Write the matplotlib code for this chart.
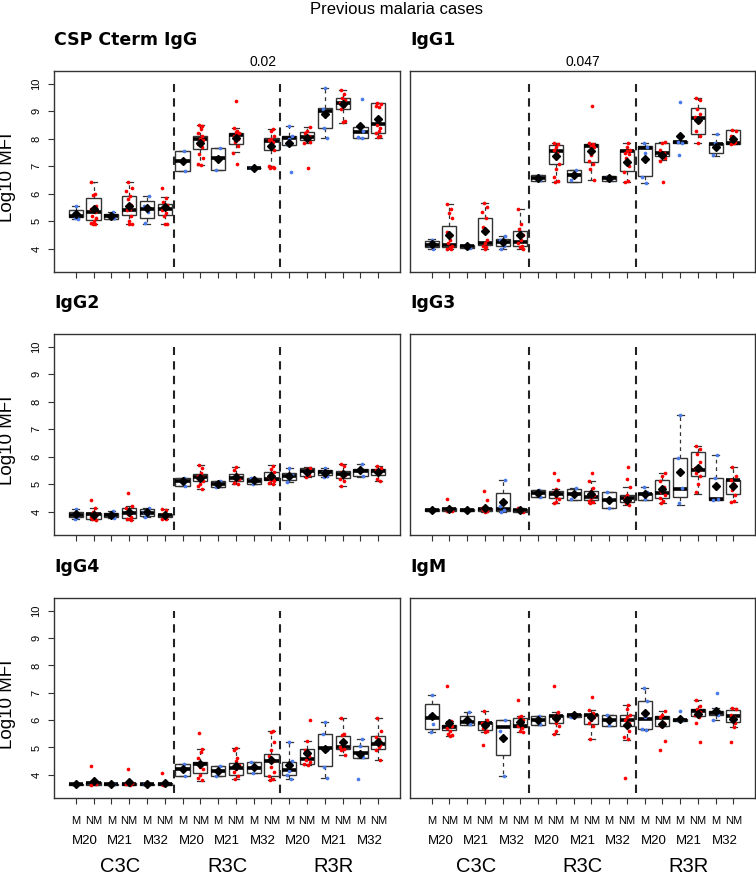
import matplotlib
matplotlib.use("Agg")
import matplotlib.pyplot as plt

plt.rcParams['font.family'] = ['Liberation Sans', 'DejaVu Sans']

# ---------------- data ----------------
groups = ["C3C", "R3C", "R3R"]
strains = ["M20", "M21", "M32"]
status = ["M", "NM"]
panel_titles = ["CSP Cterm IgG", "IgG1", "IgG2", "IgG3", "IgG4", "IgM"]
pvalues = {"CSP Cterm IgG": ("0.02", 11.5), "IgG1": ("0.047", 9.5)}

csp_q1 = [5.14, 5.05, 5.09, 5.23, 5.12, 5.24, 6.81, 7.62, 6.86, 7.80, 6.92, 7.58, 7.78, 7.95, 8.38, 9.07, 8.04, 8.22]
csp_med = [5.20, 5.33, 5.18, 5.41, 5.45, 5.45, 7.19, 8.00, 7.29, 8.14, 6.93, 7.92, 8.02, 8.07, 9.01, 9.31, 8.26, 8.53]
csp_q3 = [5.41, 5.85, 5.27, 5.91, 5.75, 5.63, 7.56, 8.10, 7.68, 8.22, 6.94, 8.02, 8.10, 8.25, 9.13, 9.47, 8.44, 9.29]
csp_lo = [5.08, 4.88, 5.08, 4.88, 4.90, 4.88, 6.81, 7.04, 6.86, 7.51, 6.92, 6.96, 7.78, 7.86, 8.04, 8.59, 8.03, 8.04]
csp_hi = [5.55, 6.44, 5.35, 6.41, 5.93, 5.87, 7.56, 8.50, 7.68, 8.38, 6.94, 8.35, 8.47, 8.43, 9.86, 9.76, 8.45, 9.31]
csp_mean = [5.28, 5.45, 5.20, 5.57, 5.48, 5.50, 7.20, 7.86, 7.27, 8.04, 6.93, 7.74, 7.84, 8.04, 8.89, 9.25, 8.47, 8.71]
csp_pts = [
    [5.55, 5.30, 5.20, 5.12, 5.08],
    [6.44, 6.00, 5.95, 5.55, 5.45, 5.35, 5.20, 5.10, 5.00, 4.95, 4.90, 4.88],
    [5.35, 5.20, 5.10],
    [6.41, 6.20, 6.10, 5.90, 5.80, 5.60, 5.45, 5.40, 5.20, 5.00, 4.90, 4.88],
    [5.93, 5.55, 5.35, 4.93],
    [6.22, 5.85, 5.70, 5.60, 5.50, 5.40, 5.30, 5.20, 4.90, 4.90],
    [7.57, 7.20, 6.81],
    [8.50, 8.45, 8.35, 8.20, 8.10, 8.00, 7.95, 7.90, 7.80, 7.70, 7.45, 7.30, 7.10, 7.05],
    [7.66, 7.28, 6.86],
    [9.38, 8.38, 8.30, 8.25, 8.20, 8.15, 8.10, 8.00, 7.90, 7.75, 7.50, 7.10],
    [6.95, 6.93, 6.92],
    [8.35, 8.30, 8.10, 8.00, 7.95, 7.90, 7.85, 7.60, 7.00, 6.98, 6.95, 6.95],
    [8.47, 8.10, 8.00, 7.80, 6.78],
    [8.43, 8.30, 8.20, 8.10, 8.05, 7.90, 7.85, 6.95],
    [9.86, 9.10, 8.90, 8.38, 8.04],
    [9.76, 9.65, 9.50, 9.40, 9.30, 9.20, 9.10, 8.65, 8.60],
    [9.45, 8.45, 8.30, 8.05, 8.03],
    [9.30, 9.25, 9.20, 9.15, 8.50, 8.40, 8.30, 8.20, 8.10, 8.05],
]

igg1_q1 = [4.06, 4.06, 4.03, 4.15, 4.08, 4.08, 6.45, 7.10, 6.44, 7.15, 6.47, 6.84, 6.64, 7.37, 7.86, 8.16, 7.49, 7.80]
igg1_med = [4.15, 4.14, 4.08, 4.20, 4.25, 4.23, 6.57, 7.56, 6.68, 7.73, 6.57, 7.54, 7.68, 7.50, 7.89, 8.77, 7.80, 7.86]
igg1_q3 = [4.28, 4.84, 4.12, 5.12, 4.36, 4.66, 6.68, 7.78, 6.86, 7.80, 6.66, 7.58, 7.74, 7.85, 7.91, 9.13, 7.85, 8.31]
igg1_lo = [3.99, 4.00, 4.03, 4.00, 3.99, 4.00, 6.45, 6.41, 6.44, 6.50, 6.47, 6.41, 6.38, 7.22, 7.86, 7.86, 7.36, 7.80]
igg1_hi = [4.35, 5.63, 4.12, 5.68, 4.47, 5.43, 6.68, 7.86, 6.86, 7.86, 6.66, 7.86, 7.86, 7.90, 7.91, 9.49, 8.19, 8.33]
igg1_mean = [4.18, 4.48, 4.08, 4.64, 4.24, 4.48, 6.57, 7.38, 6.68, 7.54, 6.57, 7.17, 7.26, 7.42, 8.09, 8.70, 7.72, 8.00]
igg1_pts = [
    [4.33, 4.15, 4.00],
    [5.63, 5.45, 5.30, 5.10, 4.60, 4.30, 4.20, 4.10, 4.05, 4.00, 4.00],
    [4.10, 4.05, 4.03],
    [5.68, 5.50, 5.35, 5.10, 4.80, 4.30, 4.20, 4.10, 4.05, 4.00],
    [4.45, 4.30, 4.10, 3.99],
    [5.45, 4.90, 4.70, 4.50, 4.30, 4.20, 4.10, 4.05, 4.00],
    [6.65, 6.55, 6.50],
    [7.86, 7.80, 7.70, 7.60, 7.50, 7.30, 7.10, 6.90, 6.60, 6.45, 6.42],
    [6.85, 6.70, 6.50],
    [9.18, 7.86, 7.80, 7.75, 7.70, 7.40, 7.20, 7.10, 6.90, 6.50],
    [6.62, 6.55, 6.50],
    [7.86, 7.70, 7.60, 7.55, 7.50, 7.45, 7.30, 7.00, 6.80, 6.45, 6.42],
    [7.84, 7.70, 7.50, 6.60, 6.40],
    [7.90, 7.85, 7.60, 7.50, 7.40, 7.30, 7.20, 6.41],
    [9.34, 7.90, 7.85, 7.42],
    [9.49, 9.40, 9.10, 8.90, 8.80, 8.60, 8.30, 8.10, 7.86],
    [8.19, 7.85, 7.70, 7.40],
    [8.33, 8.30, 8.10, 8.00, 7.95, 7.90, 7.85, 7.80],
]

igg2_q1 = [3.80, 3.74, 3.79, 3.77, 3.84, 3.79, 4.93, 5.13, 4.90, 5.13, 5.02, 5.17, 5.17, 5.31, 5.35, 5.21, 5.30, 5.35]
igg2_med = [3.88, 3.90, 3.89, 3.96, 3.96, 3.87, 5.11, 5.27, 5.02, 5.23, 5.13, 5.20, 5.29, 5.47, 5.43, 5.37, 5.47, 5.47]
igg2_q3 = [3.98, 3.96, 3.96, 4.13, 4.08, 3.93, 5.23, 5.37, 5.11, 5.37, 5.23, 5.43, 5.41, 5.58, 5.53, 5.48, 5.56, 5.57]
igg2_lo = [3.74, 3.70, 3.76, 3.70, 3.82, 3.72, 4.93, 4.81, 4.88, 5.02, 5.02, 5.02, 5.07, 5.27, 5.25, 4.95, 5.28, 5.10]
igg2_hi = [4.10, 4.14, 4.03, 4.20, 4.12, 4.10, 5.23, 5.71, 5.13, 5.63, 5.24, 5.70, 5.58, 5.62, 5.59, 5.74, 5.75, 5.68]
igg2_mean = [3.90, 3.88, 3.89, 3.98, 3.98, 3.88, 5.10, 5.23, 5.00, 5.25, 5.14, 5.29, 5.30, 5.45, 5.42, 5.38, 5.50, 5.45]
igg2_pts = [
    [4.08, 3.90, 3.80, 3.75],
    [4.44, 4.14, 4.00, 3.90, 3.80, 3.75, 3.72, 3.70],
    [4.03, 3.88, 3.76],
    [4.69, 4.20, 4.15, 4.00, 3.90, 3.80, 3.75, 3.72, 3.70],
    [4.12, 4.00, 3.90, 3.82],
    [4.10, 4.05, 3.90, 3.85, 3.80, 3.75, 3.72],
    [5.23, 5.10, 4.93],
    [5.71, 5.60, 5.40, 5.30, 5.25, 5.20, 5.10, 5.00, 4.95, 4.81],
    [5.13, 5.00, 4.88],
    [5.63, 5.50, 5.35, 5.30, 5.20, 5.15, 5.05, 5.02],
    [5.24, 5.15, 5.02],
    [5.68, 5.55, 5.45, 5.30, 5.25, 5.20, 5.15, 5.10, 5.05, 5.02],
    [5.58, 5.35, 5.20, 5.07],
    [5.60, 5.55, 5.45, 5.35, 5.27],
    [5.58, 5.45, 5.30, 5.25],
    [5.72, 5.65, 5.45, 5.35, 5.20, 5.10, 4.95],
    [5.75, 5.50, 5.30],
    [5.68, 5.60, 5.50, 5.40, 5.20, 5.10],
]

igg3_q1 = [4.02, 4.03, 4.04, 4.02, 4.03, 3.98, 4.54, 4.50, 4.44, 4.44, 4.14, 4.36, 4.42, 4.50, 4.54, 5.31, 4.42, 4.66]
igg3_med = [4.06, 4.08, 4.06, 4.08, 4.10, 4.06, 4.69, 4.66, 4.66, 4.54, 4.44, 4.50, 4.63, 4.69, 4.83, 5.50, 4.47, 5.14]
igg3_q3 = [4.10, 4.13, 4.08, 4.13, 4.69, 4.10, 4.78, 4.75, 4.84, 4.75, 4.72, 4.59, 4.69, 5.17, 5.95, 6.16, 5.23, 5.17]
igg3_lo = [4.02, 4.02, 4.04, 4.00, 4.00, 3.98, 4.54, 4.30, 4.44, 4.30, 4.14, 4.23, 4.42, 4.30, 4.26, 4.66, 4.42, 4.35]
igg3_hi = [4.10, 4.13, 4.08, 4.15, 5.17, 4.15, 4.80, 4.83, 4.85, 5.13, 4.72, 4.89, 4.90, 5.41, 7.52, 6.38, 6.07, 5.62]
igg3_mean = [4.06, 4.09, 4.06, 4.14, 4.36, 4.05, 4.68, 4.69, 4.66, 4.66, 4.44, 4.44, 4.63, 4.83, 5.43, 5.59, 4.93, 4.95]
igg3_pts = [
    [4.07, 4.06, 4.04],
    [4.47, 4.10, 4.05, 4.03, 4.02],
    [4.07, 4.05],
    [4.75, 4.44, 4.15, 4.10, 4.05, 4.02, 4.00],
    [5.17, 4.20, 4.05, 4.00],
    [4.15, 4.05, 4.02, 4.00],
    [4.80, 4.70, 4.55],
    [5.41, 5.17, 4.83, 4.70, 4.65, 4.55, 4.45, 4.35, 4.30],
    [4.85, 4.65, 4.45],
    [5.41, 5.13, 4.85, 4.75, 4.60, 4.50, 4.40, 4.35, 4.30],
    [4.72, 4.45, 4.14],
    [5.63, 5.20, 4.90, 4.60, 4.50, 4.40, 4.30, 4.25],
    [4.90, 4.70, 4.45],
    [5.41, 5.30, 5.10, 4.90, 4.70, 4.60, 4.50, 4.40, 4.30],
    [7.52, 5.95, 4.85, 4.30],
    [6.38, 6.30, 6.10, 5.80, 5.60, 5.50, 5.40, 5.30, 5.00, 4.70],
    [6.07, 5.23, 4.45, 4.42],
    [5.62, 5.30, 5.15, 5.00, 4.80, 4.60, 4.40, 4.35],
]

igg4_q1 = [3.64, 3.62, 3.64, 3.62, 3.63, 3.62, 3.96, 4.06, 3.96, 4.01, 4.05, 3.94, 4.00, 4.38, 4.32, 4.95, 4.63, 4.95]
igg4_med = [3.66, 3.69, 3.66, 3.66, 3.65, 3.66, 4.20, 4.38, 4.14, 4.26, 4.26, 4.50, 4.17, 4.56, 4.99, 5.01, 4.81, 5.14]
igg4_q3 = [3.68, 3.74, 3.68, 3.69, 3.67, 3.69, 4.41, 4.48, 4.32, 4.44, 4.48, 4.75, 4.48, 4.93, 5.51, 5.41, 5.05, 5.41]
igg4_lo = [3.64, 3.62, 3.64, 3.62, 3.63, 3.62, 3.96, 3.76, 3.96, 3.84, 4.05, 3.82, 3.84, 4.35, 3.90, 4.71, 4.63, 4.55]
igg4_hi = [3.68, 3.74, 3.68, 3.69, 3.67, 3.69, 4.41, 4.93, 4.32, 4.98, 4.48, 5.59, 5.20, 5.23, 5.92, 6.07, 5.31, 6.07]
igg4_mean = [3.66, 3.76, 3.66, 3.72, 3.65, 3.69, 4.20, 4.38, 4.14, 4.32, 4.27, 4.53, 4.35, 4.78, 4.95, 5.19, 4.75, 5.19]
igg4_pts = [
    [3.68, 3.66, 3.65],
    [4.32, 3.75, 3.70, 3.65, 3.63],
    [3.68, 3.66, 3.65],
    [4.22, 3.70, 3.65, 3.63],
    [3.67, 3.65, 3.63],
    [4.08, 3.68, 3.64],
    [4.41, 4.20, 3.97],
    [5.52, 4.93, 4.85, 4.60, 4.40, 4.30, 4.20, 4.00, 3.90, 3.80],
    [4.32, 4.14, 3.95],
    [4.98, 4.90, 4.60, 4.50, 4.35, 4.20, 4.10, 3.95, 3.85],
    [4.48, 4.27, 4.05],
    [5.59, 5.55, 5.20, 4.90, 4.70, 4.50, 4.30, 4.10, 3.95, 3.85, 3.82],
    [5.20, 4.50, 4.15, 4.00, 3.84],
    [6.00, 5.23, 4.90, 4.70, 4.55, 4.45, 4.38, 4.35],
    [5.93, 5.50, 4.90, 4.30, 3.90],
    [6.07, 5.50, 5.45, 5.20, 5.00, 4.95, 4.90, 4.71],
    [5.30, 5.05, 4.65, 3.84],
    [6.07, 5.60, 5.40, 5.30, 5.20, 5.10, 5.00, 4.90, 4.55],
]

igm_q1 = [5.69, 5.63, 5.83, 5.63, 4.71, 5.75, 5.83, 5.89, 6.11, 5.86, 5.80, 5.80, 5.68, 5.80, 5.98, 6.14, 6.17, 5.93]
igm_med = [6.07, 5.75, 5.93, 5.89, 5.74, 5.80, 6.01, 6.16, 6.17, 6.20, 5.99, 5.99, 6.04, 6.07, 6.01, 6.34, 6.26, 6.16]
igm_q3 = [6.60, 5.81, 6.14, 5.93, 5.99, 6.07, 6.16, 6.20, 6.23, 6.23, 6.20, 6.17, 6.70, 6.14, 6.04, 6.40, 6.32, 6.38]
igm_lo = [5.57, 5.41, 5.83, 5.56, 3.94, 5.56, 5.83, 5.50, 6.11, 5.31, 5.80, 5.29, 5.65, 5.80, 5.98, 6.14, 5.99, 5.75]
igm_hi = [6.91, 5.97, 6.29, 6.35, 5.99, 6.16, 6.16, 6.28, 6.23, 6.38, 6.20, 6.56, 7.19, 6.34, 6.04, 6.74, 6.44, 6.44]
igm_mean = [6.16, 5.89, 5.99, 5.83, 5.35, 5.93, 6.00, 6.07, 6.17, 6.11, 6.00, 5.83, 6.26, 5.87, 6.04, 6.23, 6.34, 6.05]
igm_pts = [
    [6.91, 6.20, 5.85, 5.57],
    [7.25, 5.97, 5.90, 5.80, 5.70, 5.60, 5.50, 5.45, 5.41],
    [6.29, 6.00, 5.85],
    [6.35, 6.00, 5.90, 5.80, 5.70, 5.60, 5.56, 5.08],
    [6.00, 5.60, 3.94],
    [6.72, 6.16, 6.10, 6.00, 5.90, 5.80, 5.70, 5.60, 5.56],
    [6.16, 6.00, 5.85],
    [7.25, 6.28, 6.20, 6.10, 6.00, 5.90, 5.80, 5.60, 5.50],
    [6.20, 6.15, 6.13],
    [6.86, 6.38, 6.25, 6.20, 6.10, 6.00, 5.90, 5.80, 5.31],
    [6.20, 6.00, 5.82],
    [6.56, 6.40, 6.20, 6.10, 6.00, 5.90, 5.80, 5.60, 5.40, 5.30, 3.90],
    [7.19, 6.70, 6.10, 5.68, 5.65],
    [6.34, 6.20, 6.10, 5.90, 5.80, 5.23, 4.89],
    [6.35, 6.02, 6.00],
    [6.74, 6.50, 6.40, 6.30, 6.20, 6.10, 5.89, 5.19],
    [6.98, 6.40, 6.20, 5.99],
    [6.44, 6.40, 6.20, 6.10, 6.00, 5.90, 5.75, 5.19],
]

panel_data = [
    (csp_q1, csp_med, csp_q3, csp_lo, csp_hi, csp_mean, csp_pts),
    (igg1_q1, igg1_med, igg1_q3, igg1_lo, igg1_hi, igg1_mean, igg1_pts),
    (igg2_q1, igg2_med, igg2_q3, igg2_lo, igg2_hi, igg2_mean, igg2_pts),
    (igg3_q1, igg3_med, igg3_q3, igg3_lo, igg3_hi, igg3_mean, igg3_pts),
    (igg4_q1, igg4_med, igg4_q3, igg4_lo, igg4_hi, igg4_mean, igg4_pts),
    (igm_q1, igm_med, igm_q3, igm_lo, igm_hi, igm_mean, igm_pts),
]

# ---------------- styling ----------------
W, H = 756, 877
BLUE = "#4A7BEA"
RED = "#FF0000"
EDGE = "#333333"
jitter = [0.0, -0.12, 0.10, -0.05, 0.14, -0.15, 0.06, -0.09, 0.12, 0.03, -0.13, 0.08, -0.02, 0.15]

fig = plt.figure(figsize=(W / 100, H / 100), dpi=100)

col_x = [(54, 400), (410, 755)]
row_y = [(71, 272), (334, 535), (598, 798)]

positions = list(range(1, 19))

for k, title in enumerate(panel_titles):
    r, c = divmod(k, 2)
    x0, x1 = col_x[c]
    y0, y1 = row_y[r]
    ax = fig.add_axes([x0 / W, 1 - y1 / H, (x1 - x0) / W, (y1 - y0) / H])
    q1, med, q3, lo, hi, mean, pts = panel_data[k]
    stats = [dict(q1=q1[i], med=med[i], q3=q3[i], whislo=lo[i], whishi=hi[i], mean=mean[i])
             for i in range(18)]
    ax.bxp(stats, positions=positions, widths=0.8, capwidths=0.4, showmeans=True,
           showfliers=False, patch_artist=True,
           boxprops=dict(facecolor='none', edgecolor=EDGE, linewidth=1.0),
           medianprops=dict(color='black', linewidth=2.6, solid_capstyle='butt'),
           whiskerprops=dict(color=EDGE, linewidth=0.9, linestyle=(0, (3, 3))),
           capprops=dict(color=EDGE, linewidth=0.9),
           meanprops=dict(marker='D', markerfacecolor='black', markeredgecolor='black',
                          markersize=4.3, zorder=5))
    for i, vals in enumerate(pts):
        col = BLUE if i % 2 == 0 else RED
        xs = [positions[i] + jitter[(j + i) % len(jitter)] for j in range(len(vals))]
        ax.scatter(xs, vals, s=7, color=col, linewidths=0, zorder=4)

    ax.vlines([6.5, 12.5], 3.35, 10, colors='#222222', linestyles=(0, (4, 3)), linewidth=1.5, zorder=1)

    ax.set_xlim(-0.22, 19.22)
    ax.set_ylim(3.15, 10.47)
    for sp in ax.spines.values():
        sp.set_color(EDGE)
        sp.set_linewidth(1.0)
    ax.set_xticks(positions)
    ax.set_xticklabels([])
    ax.tick_params(axis='x', length=4.5, width=0.8, color=EDGE, direction='out')
    if c == 0:
        ax.set_yticks(range(4, 11))
        ax.set_yticklabels([str(v) for v in range(4, 11)], rotation=90, va='center', fontsize=8)
        ax.tick_params(axis='y', length=4, width=0.8, color=EDGE, pad=5)
        ax.text(-0.135, 0.47, "Log10 MFI", rotation=90, ha='center', va='center',
                fontsize=13.5, transform=ax.transAxes)
    else:
        ax.set_yticks([])

    if title in pvalues:
        txt, xp = pvalues[title]
        ax.text(xp, 10.8, txt, ha='center', va='center', fontsize=10, clip_on=False)

    fig.text((x0 + 0) / W, 1 - (y0 - 31) / H, title, family='DejaVu Sans', fontweight='bold',
             fontsize=12.5, ha='left', va='center')

    if r == 2:
        tr = ax.get_xaxis_transform()
        for i, p in enumerate(positions):
            ax.text(p, -0.115, status[i % 2], ha='center', va='center', fontsize=8, transform=tr)
        for g in range(3):
            for s in range(3):
                ax.text(1.5 + 6 * g + 2 * s, -0.215, strains[s], ha='center', va='center',
                        fontsize=9.5, transform=tr)
            ax.text(3.5 + 6 * g, -0.345, groups[g], ha='center', va='center', fontsize=14.5,
                    transform=tr)

fig.text(396 / W, 1 - 9 / H, "Previous malaria cases", ha='center', va='center', fontsize=12)

fig.savefig("out.png", dpi=100)
